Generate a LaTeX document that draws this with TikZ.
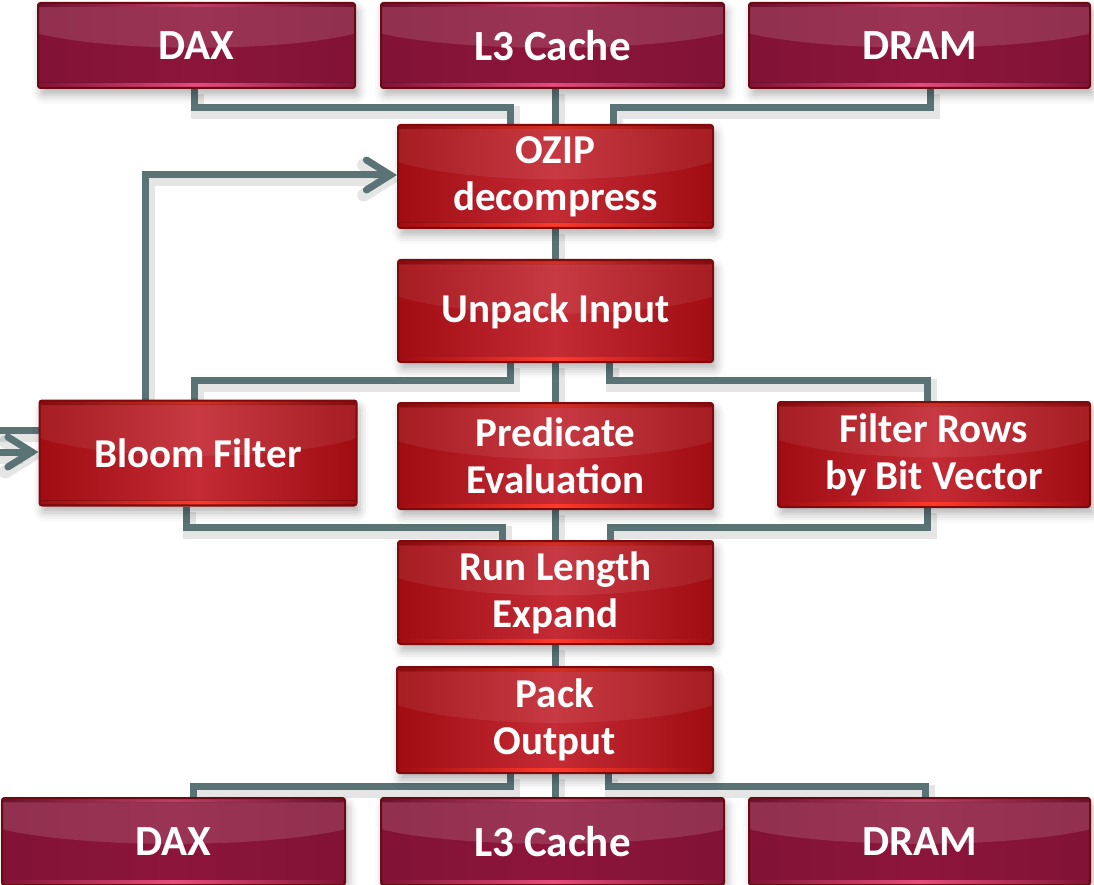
\documentclass[tikz,border=0pt]{standalone}
\usepackage{fontspec}
\setmainfont{Carlito}
\usetikzlibrary{arrows.meta,shadows.blur,calc}

\definecolor{wire}{HTML}{5A7476}
\definecolor{redrim}{HTML}{7E0A0E}
\definecolor{redside}{HTML}{A00C12}
\definecolor{redmid}{HTML}{C42B35}
\definecolor{redglow}{HTML}{FF3A28}
\definecolor{plumrim}{HTML}{6A0A12}
\definecolor{plumside}{HTML}{821236}
\definecolor{plummid}{HTML}{8C153B}
\definecolor{plumglow}{HTML}{E64C7C}

\pgfdeclarelayer{wires}
\pgfsetlayers{wires,main}

% glossy face of a box: #1 edge colour, #2 centre colour, #3 glow colour, #4 gloss opacity
\newcommand\boxface[4]{%
  \fill[left color=#1,right color=#1,middle color=#2]
    (path picture bounding box.south west) rectangle (path picture bounding box.north east);
  \fill[white,opacity=#4] let \p1=(path picture bounding box.south west),
      \p2=(path picture bounding box.north east) in
    (\x1,\y2) -- (\x1,{\y2-0.36*(\y2-\y1)})
    .. controls ({\x1+0.25*(\x2-\x1)},{\y2-0.58*(\y2-\y1)})
            and ({\x1+0.75*(\x2-\x1)},{\y2-0.58*(\y2-\y1)})
    .. (\x2,{\y2-0.36*(\y2-\y1)}) -- (\x2,\y2) -- cycle;
  \fill[left color=#1,right color=#1,middle color=#3] let
      \p1=(path picture bounding box.south west),
      \p2=(path picture bounding box.north east) in
    (\x1,{\y1+1pt}) rectangle (\x2,{\y1+5pt});
  \fill[left color=#1,right color=#1,middle color=#3,opacity=.8] let
      \p1=(path picture bounding box.south west),
      \p2=(path picture bounding box.north east) in
    (\x1,{\y2-1pt}) rectangle (\x2,{\y2-4pt});
}

\tikzset{
  basebox/.style={rectangle, rounded corners=2.5pt, line width=2pt, inner sep=0pt,
    align=center, text=white,
    blur shadow={shadow xshift=3pt, shadow yshift=-7pt, shadow blur radius=9pt,
      shadow opacity=30}},
  redbox/.style={basebox, draw=redrim,
    font=\fontsize{41}{47}\selectfont\bfseries,
    path picture={\boxface{redside}{redmid}{redglow}{0.07}}},
  plumbox/.style={basebox, draw=plumrim,
    font=\fontsize{43}{50}\selectfont\bfseries,
    path picture={\boxface{plumside}{plummid}{plumglow}{0.13}}},
  wire/.style={draw=wire, line width=7pt,
    preaction={draw=black, opacity=.10, line width=13pt,
      transform canvas={shift={(3pt,-5pt)}}}},
  barb/.style={-{Straight Barb[length=24pt,width=30pt,line cap=round]}}
}

\begin{document}
\begin{tikzpicture}[x=1pt,y=-1pt]
  \useasboundingbox (0,0) rectangle (1094,885);

  % memory sources
  \node[plumbox, minimum width=317pt, minimum height=85pt] (topdax)  at (196.5,45.5) {DAX};
  \node[plumbox, minimum width=343pt, minimum height=85pt] (topl3)   at (552.5,45.5) {L3 Cache};
  \node[plumbox, minimum width=341pt, minimum height=85pt] (topdram) at (919.5,45.5) {DRAM};

  % pipeline stages
  \node[redbox, minimum width=315pt, minimum height=103pt] (ozip)   at (555.5,176.5) {OZIP\\decompress};
  \node[redbox, minimum width=315pt, minimum height=102pt] (unpack) at (555.5,311) {Unpack Input};
  \node[redbox, minimum width=317pt, minimum height=105pt] (bloom)  at (198,453) {Bloom Filter};
  \node[redbox, minimum width=315pt, minimum height=106pt] (pred)   at (555.5,456) {Predicate\\Evaluation};
  \node[redbox, minimum width=312pt, minimum height=105pt] (filt)   at (934,454.5) {Filter Rows\\by Bit Vector};
  \node[redbox, minimum width=315pt, minimum height=103pt] (rle)    at (555.5,592.5) {Run Length\\Expand};
  \node[redbox, minimum width=316pt, minimum height=106pt] (pack)   at (555,720) {Pack\\Output};

  % memory sinks
  \node[plumbox, minimum width=343pt, minimum height=87pt] (botdax)  at (173.5,841.5) {DAX};
  \node[plumbox, minimum width=343pt, minimum height=87pt] (botl3)   at (552.5,841.5) {L3 Cache};
  \node[plumbox, minimum width=341pt, minimum height=87pt] (botdram) at (919.5,841.5) {DRAM};

  \coordinate (inA) at (-10,430);
  \coordinate (inB) at (-10,452);

  \begin{pgfonlayer}{wires}
    % sources into decompressor
    \draw[wire] (topdax.south -| 194,0) |- (510,108) -- (ozip.north -| 510,0);
    \draw[wire] (topl3.south -| 555,0) -- (ozip.north -| 555,0);
    \draw[wire] (topdram.south -| 930,0) |- (613,108) -- (ozip.north -| 613,0);
    \draw[wire] (ozip.south -| 555,0) -- (unpack.north -| 555,0);

    % fan-out after unpacking
    \draw[wire] (unpack.south -| 510,0) |- (194,380) -- (bloom.north -| 194,0);
    \draw[wire] (unpack.south -| 555,0) -- (pred.north -| 555,0);
    \draw[wire] (unpack.south -| 609,0) |- (927,380) -- (filt.north -| 927,0);

    % fan-in to run length expansion
    \draw[wire] (bloom.south -| 186,0) |- (502,527) -- (rle.north -| 502,0);
    \draw[wire] (pred.south -| 555,0) -- (rle.north -| 555,0);
    \draw[wire] (filt.south -| 927,0) |- (610,527) -- (rle.north -| 610,0);
    \draw[wire] (rle.south -| 555,0) -- (pack.north -| 555,0);

    % outputs
    \draw[wire] (pack.south -| 510,0) |- (193,786) -- (botdax.north -| 193,0);
    \draw[wire] (pack.south -| 555,0) -- (botl3.north -| 555,0);
    \draw[wire] (pack.south -| 608,0) |- (925,786) -- (botdram.north -| 925,0);

    % bloom filter feedback and inputs
    \draw[wire,barb] (bloom.north -| 145,0) |- (ozip.west |- 0,175);
    \draw[wire] (inA) -- (bloom.west |- inA);
    \draw[wire,barb] (inB) -- (bloom.west |- inB);
  \end{pgfonlayer}
\end{tikzpicture}
\end{document}
